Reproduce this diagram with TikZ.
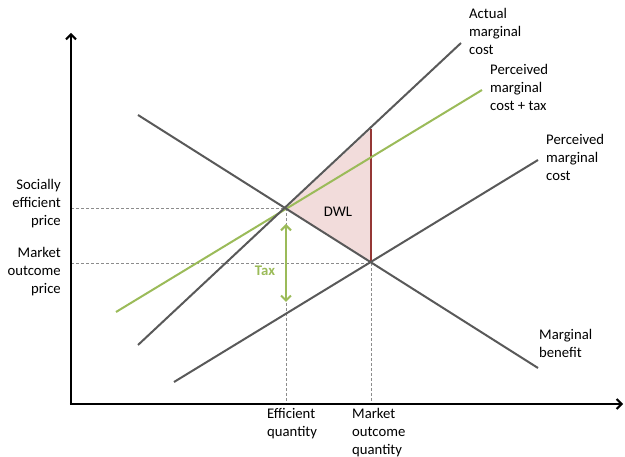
\documentclass[tikz,border=0pt]{standalone}
\usepackage{fontspec}
\setmainfont{Carlito}
\usetikzlibrary{arrows.meta}
\definecolor{curvegrey}{HTML}{595959}
\definecolor{taxgreen}{HTML}{9BBB59}
\definecolor{guidegrey}{HTML}{8C8C8C}
\definecolor{dwlfill}{HTML}{F2DCDB}
\definecolor{dwlred}{HTML}{953735}
\newcommand\lblfont{\fontsize{14.7}{17.8}\selectfont}

\begin{document}
\begin{tikzpicture}
[x=1pt, y=-1pt,
 curve/.style ={draw=curvegrey, line width=2pt},
 taxcurve/.style ={draw=taxgreen, line width=2pt},
 guide/.style ={draw=guidegrey, line width=0.8pt, dash pattern=on 3pt off 2pt},
 axis/.style ={draw=black, line width=2.2pt, -{Straight Barb[length=5pt,width=10pt,line width=2pt]}},
 lefttext/.style ={font=\lblfont, align=left, inner sep=0pt, anchor=north west},
 righttext/.style ={font=\lblfont, align=right, inner sep=0pt, anchor=north east}]
\useasboundingbox (0,0) rectangle (625,457);
% points
\path (71,404) coordinate (O)
      (71,33) coordinate (ytip)
      (623,404) coordinate (xtip)
      (286,208) coordinate (E)
      (371,263) coordinate (M)
      (371,129) coordinate (T)
      (71,208) coordinate (Ey)
      (71,263) coordinate (My)
      (286,404) coordinate (Ex)
      (371,404) coordinate (Mx);
% curve ends
\path (138,345) coordinate (amc1)
      (461,43) coordinate (amc2)
      (116,312) coordinate (pmt1)
      (482,90) coordinate (pmt2)
      (174,382) coordinate (pmc1)
      (538,160) coordinate (pmc2)
      (138,115) coordinate (mb1)
      (538,368) coordinate (mb2)
      (286,224) coordinate (tax1)
      (286,302) coordinate (tax2);
% guides
\draw[guide] (Ey) -- (E);
\draw[guide] (My) -- (M);
\draw[guide] (E) -- (Ex);
\draw[guide] (M) -- (Mx);
% deadweight loss
\fill[dwlfill] (E) -- (T) -- (M) -- cycle;
\draw[dwlred, line width=1.2pt] (T) -- (M);
% curves
\draw[taxcurve] (pmt1) -- (pmt2);
\draw[curve] (amc1) -- (amc2);
\draw[curve] (pmc1) -- (pmc2);
\draw[curve] (mb1) -- (mb2);
\draw[taxgreen, line width=2.2pt, {Straight Barb[length=5pt,width=10pt,line width=2pt]}-{Straight Barb[length=5pt,width=10pt,line width=2pt]}] (tax1) -- (tax2);
% axes
\draw[axis] (O) -- (ytip);
\draw[axis] ([xshift=-1.1pt]O) -- (xtip);
% labels
\path (469,8) node[lefttext] (amctext) {Actual\\marginal\\cost}
      (490,64) node[lefttext] (pmttext) {Perceived\\marginal\\cost + tax}
      (546,134) node[lefttext] (pmctext) {Perceived\\marginal\\cost}
      (539,329) node[lefttext] (mbtext) {Marginal\\benefit}
      (61,179) node[righttext] (eptext) {Socially\\efficient\\price}
      (61,247) node[righttext] (mptext) {Market\\outcome\\price}
      (267,408) node[lefttext] (eqtext) {Efficient\\quantity}
      (352,408) node[lefttext] (mqtext) {Market\\outcome\\quantity}
      (338,212) node[font=\lblfont] (dwltext) {DWL}
      (265,271) node[font=\lblfont\bfseries, text=taxgreen] (taxtext) {Tax};
\end{tikzpicture}
\end{document}
